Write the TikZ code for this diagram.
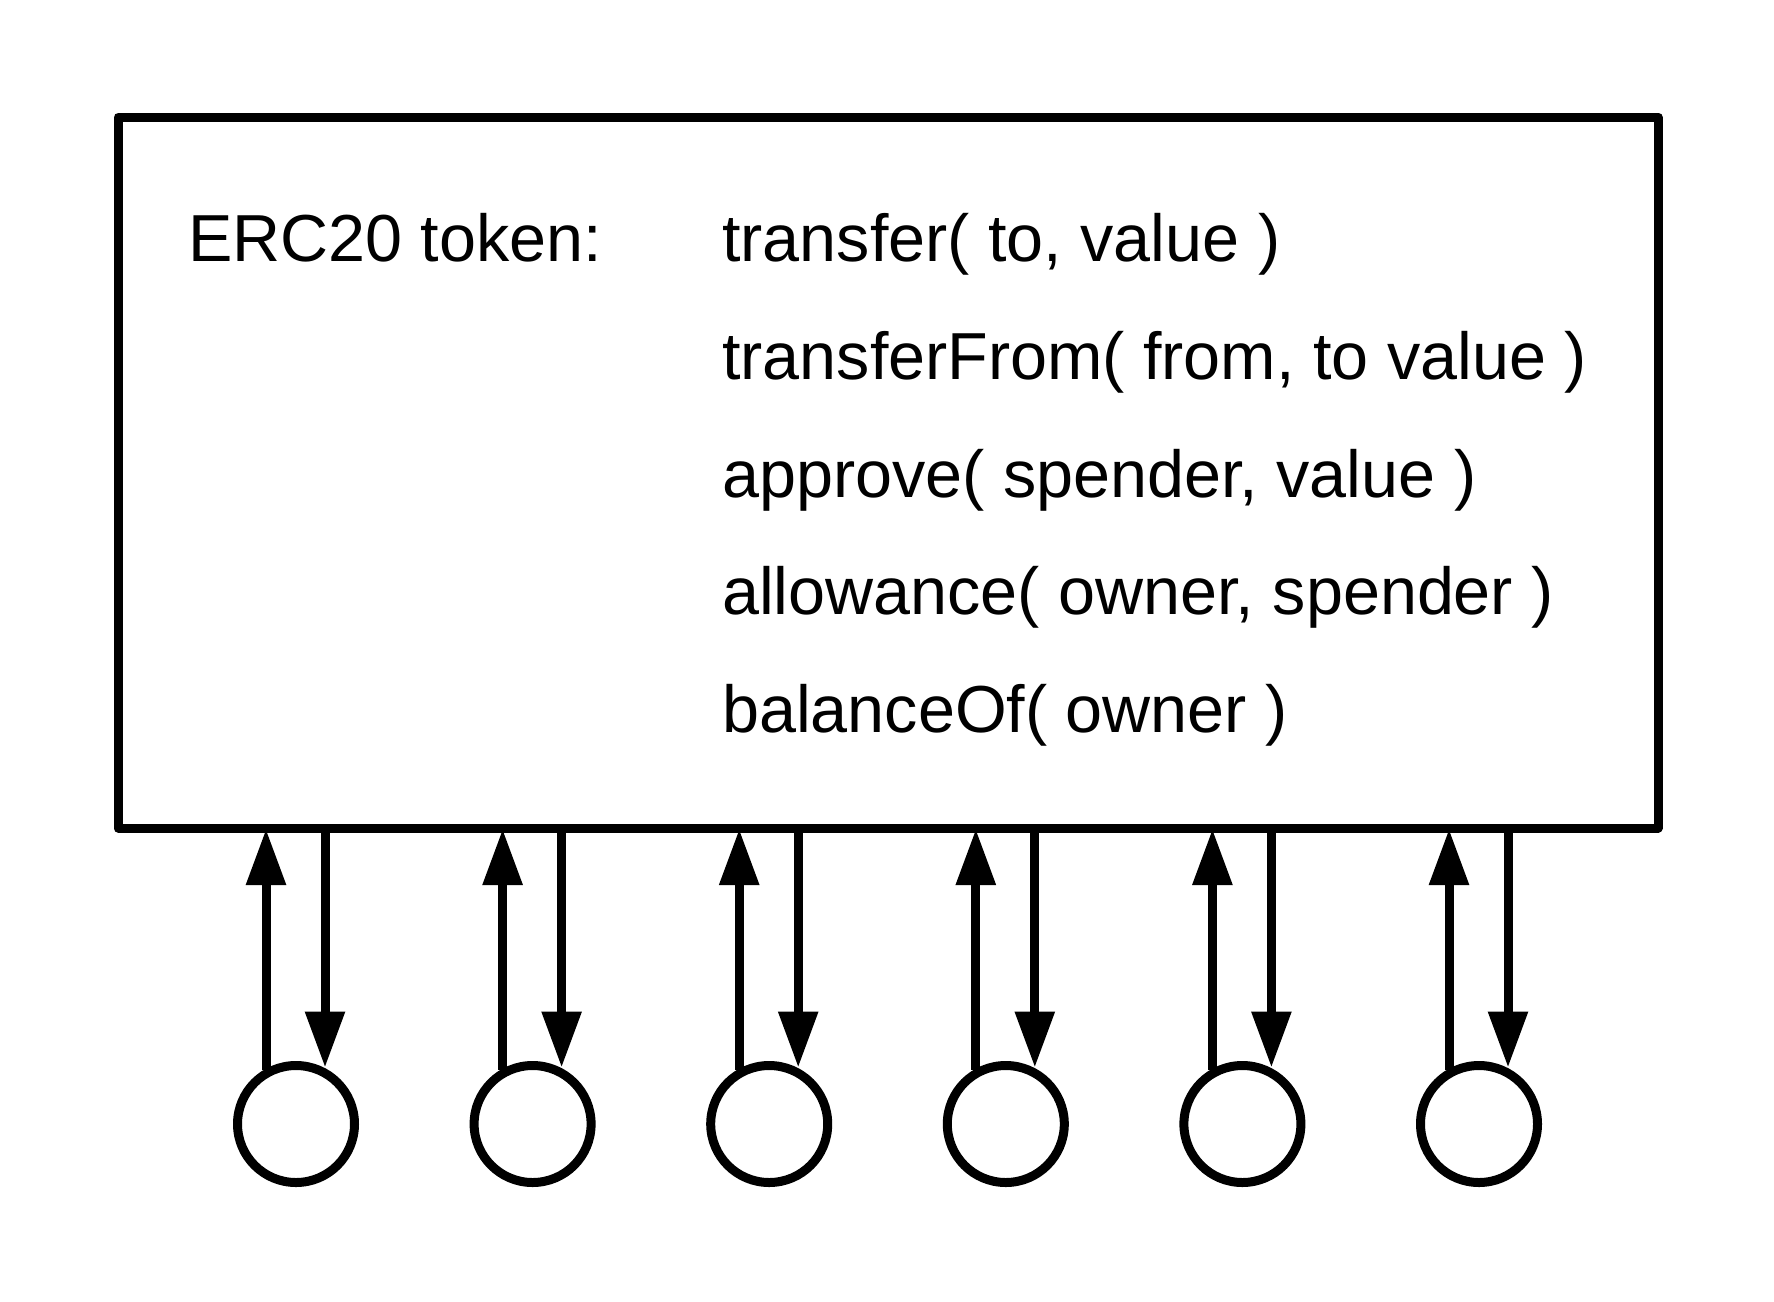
\documentclass[tikz,border=0pt]{standalone}
\usepackage{fontspec}
\setmainfont{Liberation Sans}
\usetikzlibrary{arrows.meta,calc}
\tikzset{
  frame/.style={draw=black,line width=9pt,line join=round,inner sep=0pt,outer sep=0pt,minimum width=1540pt,minimum height=711pt},
  port/.style={draw=black,circle,line width=9pt,inner sep=0pt,outer sep=0pt,minimum size=117pt},
  lbl/.style={anchor=base west,inner sep=0pt,font=\fontsize{66.5}{80}\selectfont},
  arr/.style={draw=black,line width=9pt,-{Triangle[length=56pt,width=38pt]}}
}
\begin{document}
\begin{tikzpicture}[x=1pt,y=-1pt]
\useasboundingbox (0,0) rectangle (1774,1301);
\node[frame] (box) at (888,472.5) {};
\node[lbl] (title) at (188,261) {ERC20 token:};
\node[lbl] (f1) at (722,261) {transfer( to, value )};
\node[lbl] (f2) at (722,379) {transferFrom( from, to value )};
\node[lbl] (f3) at (722,497) {approve( spender, value )};
\node[lbl] (f4) at (722,614) {allowance( owner, spender )};
\node[lbl] (f5) at (722,732) {balanceOf( owner )};
\foreach \i/\cx in {1/296,2/532.6,3/769.2,4/1005.8,5/1242.4,6/1479}{
  \node[port] (c\i) at (\cx,1124) {};
  \draw[arr] ($(c\i.north)+(-30,4)$) -- ($(c\i.north |- box.south)+(-30,1)$);
  \draw[arr] ($(c\i.north |- box.south)+(29,0)$) -- ($(c\i.north)+(29,2)$);
}
\end{tikzpicture}
\end{document}
